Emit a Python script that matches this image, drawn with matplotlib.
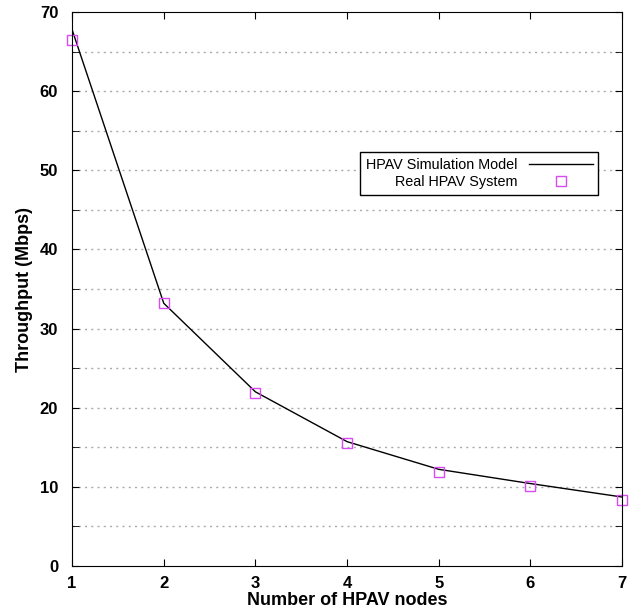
import matplotlib
matplotlib.use("Agg")
import matplotlib.pyplot as plt
from matplotlib.ticker import MultipleLocator

plt.rcParams['font.family'] = ['Liberation Sans', 'DejaVu Sans']

nodes = [1, 2, 3, 4, 5, 6, 7]
sim_model = [67.8, 33.2, 22.0, 15.7, 12.2, 10.4, 8.7]
real_system = [66.5, 33.2, 21.9, 15.5, 11.9, 10.1, 8.3]

fig = plt.figure(figsize=(6.38, 6.13), dpi=100)
ax = fig.add_axes([0.113, 0.077, 0.862, 0.903])

ax.plot(nodes, sim_model, color='black', lw=1.0, label='HPAV Simulation Model')
ax.plot(nodes, real_system, ls='none', marker='s', ms=7, mfc='none',
        mec='#d84bf0', mew=1.0, label='Real HPAV System', clip_on=False)

ax.set_xlim(1, 7)
ax.set_ylim(0, 70)
ax.yaxis.set_major_locator(MultipleLocator(10))
ax.yaxis.set_minor_locator(MultipleLocator(5))
ax.xaxis.set_major_locator(MultipleLocator(1))

# dotted horizontal grid every 5 units
for y in range(5, 70, 5):
    ax.axhline(y, color='#aaaaaa', ls=(0, (1.5, 3)), lw=1.0, zorder=0)

ax.tick_params(axis='both', which='both', direction='in', top=True, right=True)
ax.tick_params(which='major', length=5, labelsize=12)
ax.tick_params(which='minor', length=5)
ax.tick_params(axis='x', pad=7)
ax.tick_params(axis='y', pad=10)
for lbl in ax.get_xticklabels() + ax.get_yticklabels():
    lbl.set_fontweight('bold')

ax.set_xlabel('Number of HPAV nodes', fontsize=13, fontweight='bold', labelpad=1)
ax.set_ylabel('Throughput (Mbps)', fontsize=13, fontweight='bold', labelpad=5)

leg = ax.legend(loc='upper right', bbox_to_anchor=(0.957, 0.747), borderaxespad=0,
                markerfirst=False, fancybox=False, edgecolor='black', fontsize=10.4,
                handlelength=4.4, borderpad=0.4, labelspacing=0.2, framealpha=1)
for t in leg.get_texts():
    t.set_ha('right')
leg.get_frame().set_linewidth(1.0)

fig.savefig('out.png', dpi=100)
